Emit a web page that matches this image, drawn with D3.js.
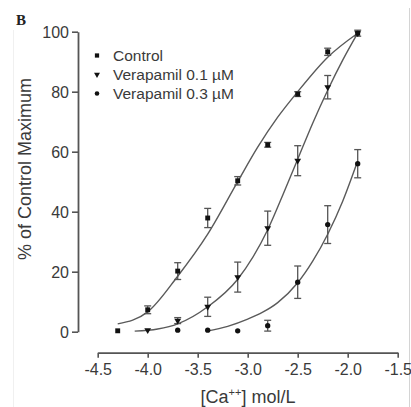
<!DOCTYPE html>
<html><head><meta charset="utf-8">
<script src="https://cdn.jsdelivr.net/npm/d3@7/dist/d3.min.js"></script>
<style>
html,body{margin:0;padding:0;background:#fff;}
svg{display:block;}
text{font-family:"Liberation Sans",Arial,sans-serif;fill:#333;}
</style></head>
<body>
<svg id="chart" width="411" height="407"></svg>
<script>
// ---- data ----
const xTicks = [-4.5, -4.0, -3.5, -3.0, -2.5, -2.0, -1.5];
const xTickLabels = ["-4.5", "-4.0", "-3.5", "-3.0", "-2.5", "-2.0", "-1.5"];
const yTicks = [0, 20, 40, 60, 80, 100];
const yTickLabels = ["0", "20", "40", "60", "80", "100"];
const seriesNames = ["Control", "Verapamil 0.1 \u00b5M", "Verapamil 0.3 \u00b5M"];

const controlX = [-4.3, -4.0, -3.7, -3.4, -3.1, -2.8, -2.5, -2.2, -1.9];
const controlY = [0.3, 7.3, 20.2, 37.9, 50.3, 62.3, 79.2, 93.3, 99.5];
const controlErr = [0, 1.3, 2.8, 3.2, 1.4, 0.8, 0.8, 1.2, 1.0];

const ver1X = [-4.0, -3.7, -3.4, -3.1, -2.8, -2.5, -2.2, -1.9];
const ver1Y = [0.5, 3.7, 8.3, 18.2, 34.5, 57.0, 81.5, 99.5];
const ver1Err = [0, 1.0, 3.2, 5.0, 5.7, 5.0, 3.9, 0];

const ver3X = [-3.7, -3.4, -3.1, -2.8, -2.5, -2.2, -1.9];
const ver3Y = [0.5, 0.5, 0.3, 2.0, 16.5, 35.7, 56.0];
const ver3Err = [0, 0, 0, 1.8, 5.4, 6.3, 4.7];

// fitted curves
const controlFitX = [-4.3, -4.0, -3.7, -3.4, -3.1, -2.9, -2.7, -2.5, -2.2, -1.9];
const controlFitY = [2.6, 6.6, 18.5, 32.5, 50.0, 61.5, 71.5, 80.0, 91.5, 99.5];
const ver1FitX = [-4.13, -3.9, -3.7, -3.4, -3.1, -2.8, -2.65, -2.5, -2.35, -2.2, -2.05, -1.9];
const ver1FitY = [0.2, 0.9, 2.6, 8.3, 17.5, 34.0, 45.5, 57.5, 69.5, 80.5, 90.5, 99.5];
const ver3FitX = [-3.41, -3.2, -3.0, -2.85, -2.7, -2.5, -2.35, -2.2, -2.05, -1.91];
const ver3FitY = [0.2, 1.8, 4.2, 6.5, 9.7, 16.3, 23.5, 32.5, 43.5, 56.0];

// ---- drawing ----
const svg = d3.select("#chart");
const x = d3.scaleLinear().domain([-4.5, -1.5]).range([97.7, 397.7]);
const y = d3.scaleLinear().domain([0, 100]).range([331.7, 31.7]);

// faint scan borders
svg.append("line").attr("x1", 409.5).attr("x2", 409.5).attr("y1", 8).attr("y2", 407)
  .attr("stroke", "#d4d4d4").attr("stroke-width", 1);
svg.append("line").attr("x1", 13.5).attr("x2", 13.5).attr("y1", 30).attr("y2", 407)
  .attr("stroke", "#f0f0f0").attr("stroke-width", 1);

// panel letter
svg.append("text").attr("x", 16).attr("y", 25).text("B")
  .style("font-family", "'Liberation Serif','Times New Roman',serif")
  .style("font-weight", "bold").style("font-size", "15px").style("fill", "#222");

// axes
const xAxis = d3.axisBottom(x).tickValues(xTicks)
  .tickFormat((d, i) => xTickLabels[i]).tickSize(5).tickSizeOuter(0).tickPadding(6);
const gx = svg.append("g").attr("transform", "translate(0,352.7)").call(xAxis);
const yAxis = d3.axisLeft(y).tickValues(yTicks)
  .tickFormat((d, i) => yTickLabels[i]).tickSize(6).tickSizeOuter(0).tickPadding(3);
const gy = svg.append("g").attr("transform", "translate(78,0)").call(yAxis);
[gx, gy].forEach(g => {
  g.select(".domain").attr("stroke", "#555").attr("stroke-width", 1.8);
  g.selectAll(".tick line").attr("stroke", "#555").attr("stroke-width", 1.6);
  g.selectAll(".tick text").style("font-size", "16px").style("fill", "#3a3a3a")
    .style("font-family", "'Liberation Sans',Arial,sans-serif");
});
gy.selectAll(".tick text").attr("dy", "0.36em");

// axis titles
svg.append("text")
  .attr("transform", "translate(31,169) rotate(-90)")
  .attr("text-anchor", "middle").style("font-size", "18px").style("fill", "#3a3a3a")
  .text("% of Control Maximum");
const xt = svg.append("text").attr("x", 248).attr("y", 403)
  .attr("text-anchor", "middle").style("font-size", "18px").style("fill", "#3a3a3a");
xt.append("tspan").text("[Ca");
xt.append("tspan").attr("dy", -7).style("font-size", "11px").text("++");
xt.append("tspan").attr("dy", 7).text("] mol/L");

// fit curves
const line = d3.line().x(d => x(d[0])).y(d => y(d[1])).curve(d3.curveMonotoneX);
const fits = [[controlFitX, controlFitY], [ver1FitX, ver1FitY], [ver3FitX, ver3FitY]];
fits.forEach(([fx, fy]) => {
  svg.append("path").datum(fx.map((v, i) => [v, fy[i]]))
    .attr("d", line).attr("fill", "none").attr("stroke", "#5a5a5a").attr("stroke-width", 1.4);
});

// error bars
const series = [
  {x: controlX, y: controlY, e: controlErr, sym: d3.symbolSquare, size: 24, rot: 0},
  {x: ver1X, y: ver1Y, e: ver1Err, sym: d3.symbolTriangle, size: 20, rot: 180},
  {x: ver3X, y: ver3Y, e: ver3Err, sym: d3.symbolCircle, size: 22, rot: 0}
];
series.forEach(s => {
  const pts = s.x.map((v, i) => ({x: v, y: s.y[i], e: s.e[i]})).filter(d => d.e > 0);
  const g = svg.append("g").attr("stroke", "#555").attr("stroke-width", 1.3).attr("fill", "none");
  pts.forEach(d => {
    const cx = x(d.x), y1 = y(d.y + d.e), y2 = y(d.y - d.e);
    g.append("line").attr("x1", cx).attr("x2", cx).attr("y1", y1).attr("y2", y2);
    g.append("line").attr("x1", cx - 3.5).attr("x2", cx + 3.5).attr("y1", y1).attr("y2", y1);
    g.append("line").attr("x1", cx - 3.5).attr("x2", cx + 3.5).attr("y1", y2).attr("y2", y2);
  });
});

// markers
series.forEach(s => {
  const sym = d3.symbol().type(s.sym).size(s.size);
  svg.append("g").selectAll("path").data(s.x.map((v, i) => [v, s.y[i]])).join("path")
    .attr("d", sym)
    .attr("transform", d => `translate(${x(d[0])},${y(d[1])}) rotate(${s.rot})`)
    .attr("fill", "#111");
});

// legend
const legendY = [55.5, 74.5, 93.5];
series.forEach((s, i) => {
  const sym = d3.symbol().type(s.sym).size(s.size * 0.75);
  svg.append("path").attr("d", sym)
    .attr("transform", `translate(97,${legendY[i]}) rotate(${s.rot})`).attr("fill", "#111");
  svg.append("text").attr("x", 113).attr("y", legendY[i]).attr("dy", "0.36em")
    .style("font-size", "15.5px").style("fill", "#3a3a3a").text(seriesNames[i]);
});
</script>
</body></html>
